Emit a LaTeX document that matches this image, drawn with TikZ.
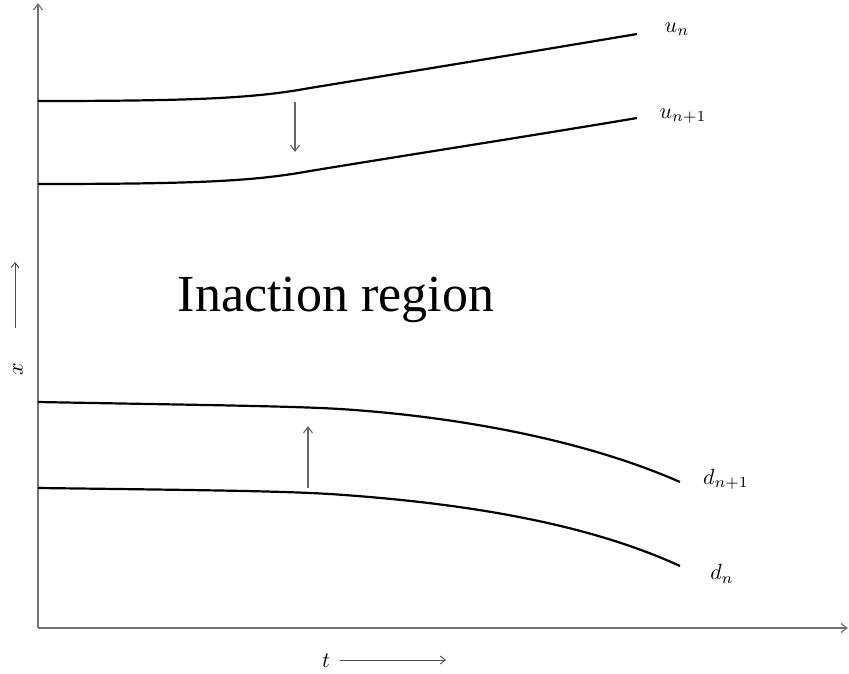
\documentclass[tikz,border=0pt]{standalone}
\usepackage{graphicx}
\usepackage{fontspec}
\setmainfont{Liberation Serif}
\usetikzlibrary{arrows.meta}
\newcommand{\biglbl}[1]{\scalebox{2.2}{$#1$}}
\begin{document}
\begin{tikzpicture}[x=1pt,y=-1pt,
  axis/.style={draw=black!55,line width=1.2pt,-{Straight Barb[length=6pt,width=9pt]}},
  curve/.style={draw=black,line width=2.2pt},
  shiftarrow/.style={draw=black!60,line width=1.1pt,-{Straight Barb[length=6pt,width=9pt]}},
  lbl/.style={inner sep=0pt},
  dir/.style={draw=black!70,line width=0.9pt,-{Straight Barb[length=5pt,width=8pt]}}]
\useasboundingbox (0,0) rectangle (849,673);
% axes
\coordinate (O) at (38,628);
\coordinate (Ytip) at (38,3);
\coordinate (Xtip) at (848,628);
\draw[axis] (O) -- (Ytip);
\draw[axis] (O) -- (Xtip);
% curves
\coordinate (u0) at (38,101); \coordinate (u1) at (637,34);
\coordinate (v0) at (38,184); \coordinate (v1) at (637,118);
\coordinate (d0) at (38,402); \coordinate (d1) at (680,482);
\coordinate (e0) at (38,488); \coordinate (e1) at (680,566);
\draw[curve] (u0) .. controls (200,101) and (255,98) .. (310,88) .. controls (420,70) and (530,52) .. (u1);
\draw[curve] (v0) .. controls (200,184) and (255,181) .. (310,171) .. controls (420,153) and (530,136) .. (v1);
\draw[curve] (d0) .. controls (200,405) and (290,406) .. (340,409) .. controls (450,416) and (580,438) .. (d1);
\draw[curve] (e0) .. controls (200,490) and (280,491) .. (330,494) .. controls (450,502) and (580,520) .. (e1);
% labels
\node[lbl] (un) at (677,29) {\biglbl{u_n}};
\node[lbl] (un1) at (683,116) {\biglbl{u_{n+1}}};
\node[lbl] (dn1) at (726,479) {\biglbl{d_{n+1}}};
\node[lbl] (dn) at (722,574) {\biglbl{d_n}};
% shift arrows
\coordinate (a0) at (295,102); \coordinate (a1) at (295,152);
\coordinate (b0) at (308,488); \coordinate (b1) at (308,426);
\draw[shiftarrow] (a0) -- (a1);
\draw[shiftarrow] (b0) -- (b1);
% region text
\node[inner sep=0pt,font=\fontsize{52}{60}\selectfont] (reg) at (336,300) {Inaction region};
% axis labels
\node[lbl,rotate=90] (xl) at (18,369) {\biglbl{x}};
\coordinate (xa0) at (15,328); \coordinate (xa1) at (15,262);
\draw[dir] (xa0) -- (xa1);
\node[lbl] (tl) at (326,661) {\biglbl{t}};
\coordinate (ta0) at (340,660); \coordinate (ta1) at (446,660);
\draw[dir] (ta0) -- (ta1);
\end{tikzpicture}
\end{document}
